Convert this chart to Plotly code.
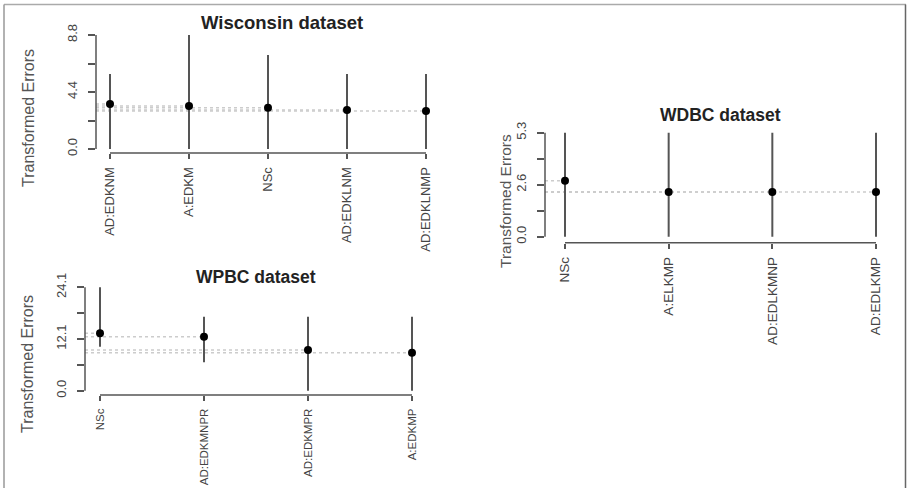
import plotly.graph_objects as go

W, H = 907, 488

# ---------------- data ----------------
wis_cats = ["AD:EDKNM", "A:EDKM", "NSc", "AD:EDKLNM", "AD:EDKLNMP"]
wis_vals = [3.47, 3.32, 3.19, 3.01, 2.93]
wis_upper = [5.79, 8.8, 7.26, 5.79, 5.79]
wis_lower = [0.0, 0.0, 0.0, 0.0, 0.0]
wis_ticks = [0.0, 2.2, 4.4, 6.6, 8.8]
wis_ticktext = ["0.0", "", "4.4", "", "8.8"]

wdbc_cats = ["NSc", "A:ELKMP", "AD:EDLKMNP", "AD:EDLKMP"]
wdbc_vals = [2.85, 2.28, 2.28, 2.28]
wdbc_upper = [5.3, 5.3, 5.3, 5.3]
wdbc_lower = [0.0, 0.0, 0.0, 0.0]
wdbc_ticks = [0.0, 1.325, 2.65, 3.975, 5.3]
wdbc_ticktext = ["0.0", "", "2.6", "", "5.3"]

wpbc_cats = ["NSc", "AD:EDKMNPR", "AD:EDKMPR", "A:EDKMP"]
wpbc_vals = [13.38, 12.59, 9.49, 8.86]
wpbc_upper = [24.1, 17.25, 17.25, 17.25]
wpbc_lower = [10.26, 6.62, 0.0, 0.0]
wpbc_ticks = [0.0, 6.025, 12.05, 18.075, 24.1]
wpbc_ticktext = ["0.0", "", "12.1", "", "24.1"]

# ---------------- layout geometry (pixels) ----------------
panels = [
    dict(name="Wisconsin dataset", cats=wis_cats, vals=wis_vals, up=wis_upper, lo=wis_lower,
         ticks=wis_ticks, ticktext=wis_ticktext,
         yax_x=96, y0_px=149, ymax_px=35, xaxis_px=153, first_px=110, last_px=426,
         title_xy=(282, 23), ytitle_xy=(28, 118), tsize=18.5, xsize=13, ysize=13, atsize=16),
    dict(name="WDBC dataset", cats=wdbc_cats, vals=wdbc_vals, up=wdbc_upper, lo=wdbc_lower,
         ticks=wdbc_ticks, ticktext=wdbc_ticktext,
         yax_x=545, y0_px=236.7, ymax_px=132.7, xaxis_px=242.7, first_px=565, last_px=876,
         title_xy=(720, 115), ytitle_xy=(505, 201), tsize=17.5, xsize=13.5, ysize=13, atsize=15.5),
    dict(name="WPBC dataset", cats=wpbc_cats, vals=wpbc_vals, up=wpbc_upper, lo=wpbc_lower,
         ticks=wpbc_ticks, ticktext=wpbc_ticktext,
         yax_x=85, y0_px=390.7, ymax_px=287.3, xaxis_px=395, first_px=100, last_px=412,
         title_xy=(256, 277), ytitle_xy=(27, 364), tsize=17.5, xsize=11.5, ysize=13, atsize=16),
]

FONT = "Arial, Liberation Sans, sans-serif"
fig = go.Figure()
shapes = []
annotations = []
layout_axes = {}

for i, p in enumerate(panels):
    n = len(p["cats"])
    ax = "" if i == 0 else str(i + 1)
    xref, yref = "x" + ax, "y" + ax
    ymax = p["ticks"][-1]
    xs = (p["last_px"] - p["first_px"]) / (n - 1)
    ys = (p["y0_px"] - p["ymax_px"]) / ymax
    x_lo = -(p["first_px"] - p["yax_x"]) / xs
    right_px = p["last_px"] + 5
    x_hi = (n - 1) + 5 / xs
    y_lo = -(p["xaxis_px"] - p["y0_px"]) / ys
    top_px = p["ymax_px"] - 2
    y_hi = ymax + 2 / ys

    # dotted reference lines from the y axis to each point at its level
    for j, v in enumerate(p["vals"]):
        fig.add_trace(go.Scatter(x=[x_lo, j], y=[v, v], mode="lines",
                                 line=dict(color="#cccccc", width=1.5, dash="dot"),
                                 xaxis=xref, yaxis=yref, showlegend=False, hoverinfo="skip"))
    # points with intervals
    fig.add_trace(go.Scatter(
        x=list(range(n)), y=p["vals"], mode="markers",
        marker=dict(color="black", size=8),
        error_y=dict(type="data", symmetric=False,
                     array=[u - v for u, v in zip(p["up"], p["vals"])],
                     arrayminus=[v - l for v, l in zip(p["vals"], p["lo"])],
                     color="#555555", thickness=2, width=0),
        xaxis=xref, yaxis=yref, showlegend=False, cliponaxis=False))

    layout_axes["xaxis" + ax] = dict(
        domain=[p["yax_x"] / W, right_px / W], range=[x_lo, x_hi], anchor=yref,
        automargin=False,
        showgrid=False, zeroline=False, showline=False,
        tickvals=list(range(n)), ticktext=p["cats"], tickangle=-90,
        ticks="outside", ticklen=5, tickcolor="#555", tickwidth=1.5,
        ticklabelstandoff=3,
        tickfont=dict(family=FONT, size=p["xsize"], color="#444"))
    layout_axes["yaxis" + ax] = dict(
        domain=[1 - p["xaxis_px"] / H, 1 - top_px / H], range=[y_lo, y_hi], anchor=xref,
        automargin=False,
        showgrid=False, zeroline=False, showline=False,
        tickvals=p["ticks"], ticktext=p["ticktext"], tickangle=-90,
        ticks="outside", ticklen=7, tickcolor="#555", tickwidth=1.5,
        ticklabelstandoff=6,
        tickfont=dict(family=FONT, size=p["ysize"], color="#444"))

    # R-style detached axis lines
    shapes.append(dict(type="line", xref=xref + " domain", yref=yref, x0=0, x1=0, y0=0, y1=ymax,
                       line=dict(color="#555", width=1.5)))
    shapes.append(dict(type="line", xref=xref, yref=yref + " domain", x0=0, x1=n - 1, y0=0, y1=0,
                       line=dict(color="#555", width=1.5)))

    annotations.append(dict(text="<b>" + p["name"] + "</b>", xref="paper", yref="paper",
                            x=p["title_xy"][0] / W, y=1 - p["title_xy"][1] / H,
                            xanchor="center", yanchor="middle", showarrow=False,
                            font=dict(family=FONT, size=p["tsize"], color="#222")))
    annotations.append(dict(text="Transformed Errors", xref="paper", yref="paper",
                            x=p["ytitle_xy"][0] / W, y=1 - p["ytitle_xy"][1] / H,
                            xanchor="center", yanchor="middle", showarrow=False, textangle=-90,
                            font=dict(family=FONT, size=p["atsize"], color="#555")))

# outer frame
shapes.append(dict(type="line", xref="paper", yref="paper", x0=4 / W, x1=906 / W,
                   y0=1 - 4.5 / H, y1=1 - 4.5 / H, line=dict(color="#aaa", width=1.5)))
shapes.append(dict(type="line", xref="paper", yref="paper", x0=4 / W, x1=4 / W,
                   y0=0, y1=1 - 4.5 / H, line=dict(color="#999", width=1.5)))
shapes.append(dict(type="line", xref="paper", yref="paper", x0=905.5 / W, x1=905.5 / W,
                   y0=0, y1=1 - 4.5 / H, line=dict(color="#666", width=1.5)))

fig.update_layout(width=W, height=H, margin=dict(l=0, r=0, t=0, b=0, autoexpand=False),
                  paper_bgcolor="white", plot_bgcolor="white",
                  shapes=shapes, annotations=annotations, **layout_axes)

fig.write_html("out.html", config={"displayModeBar": False},
               post_script="document.body.style.margin='0';document.body.style.overflow='hidden';")
